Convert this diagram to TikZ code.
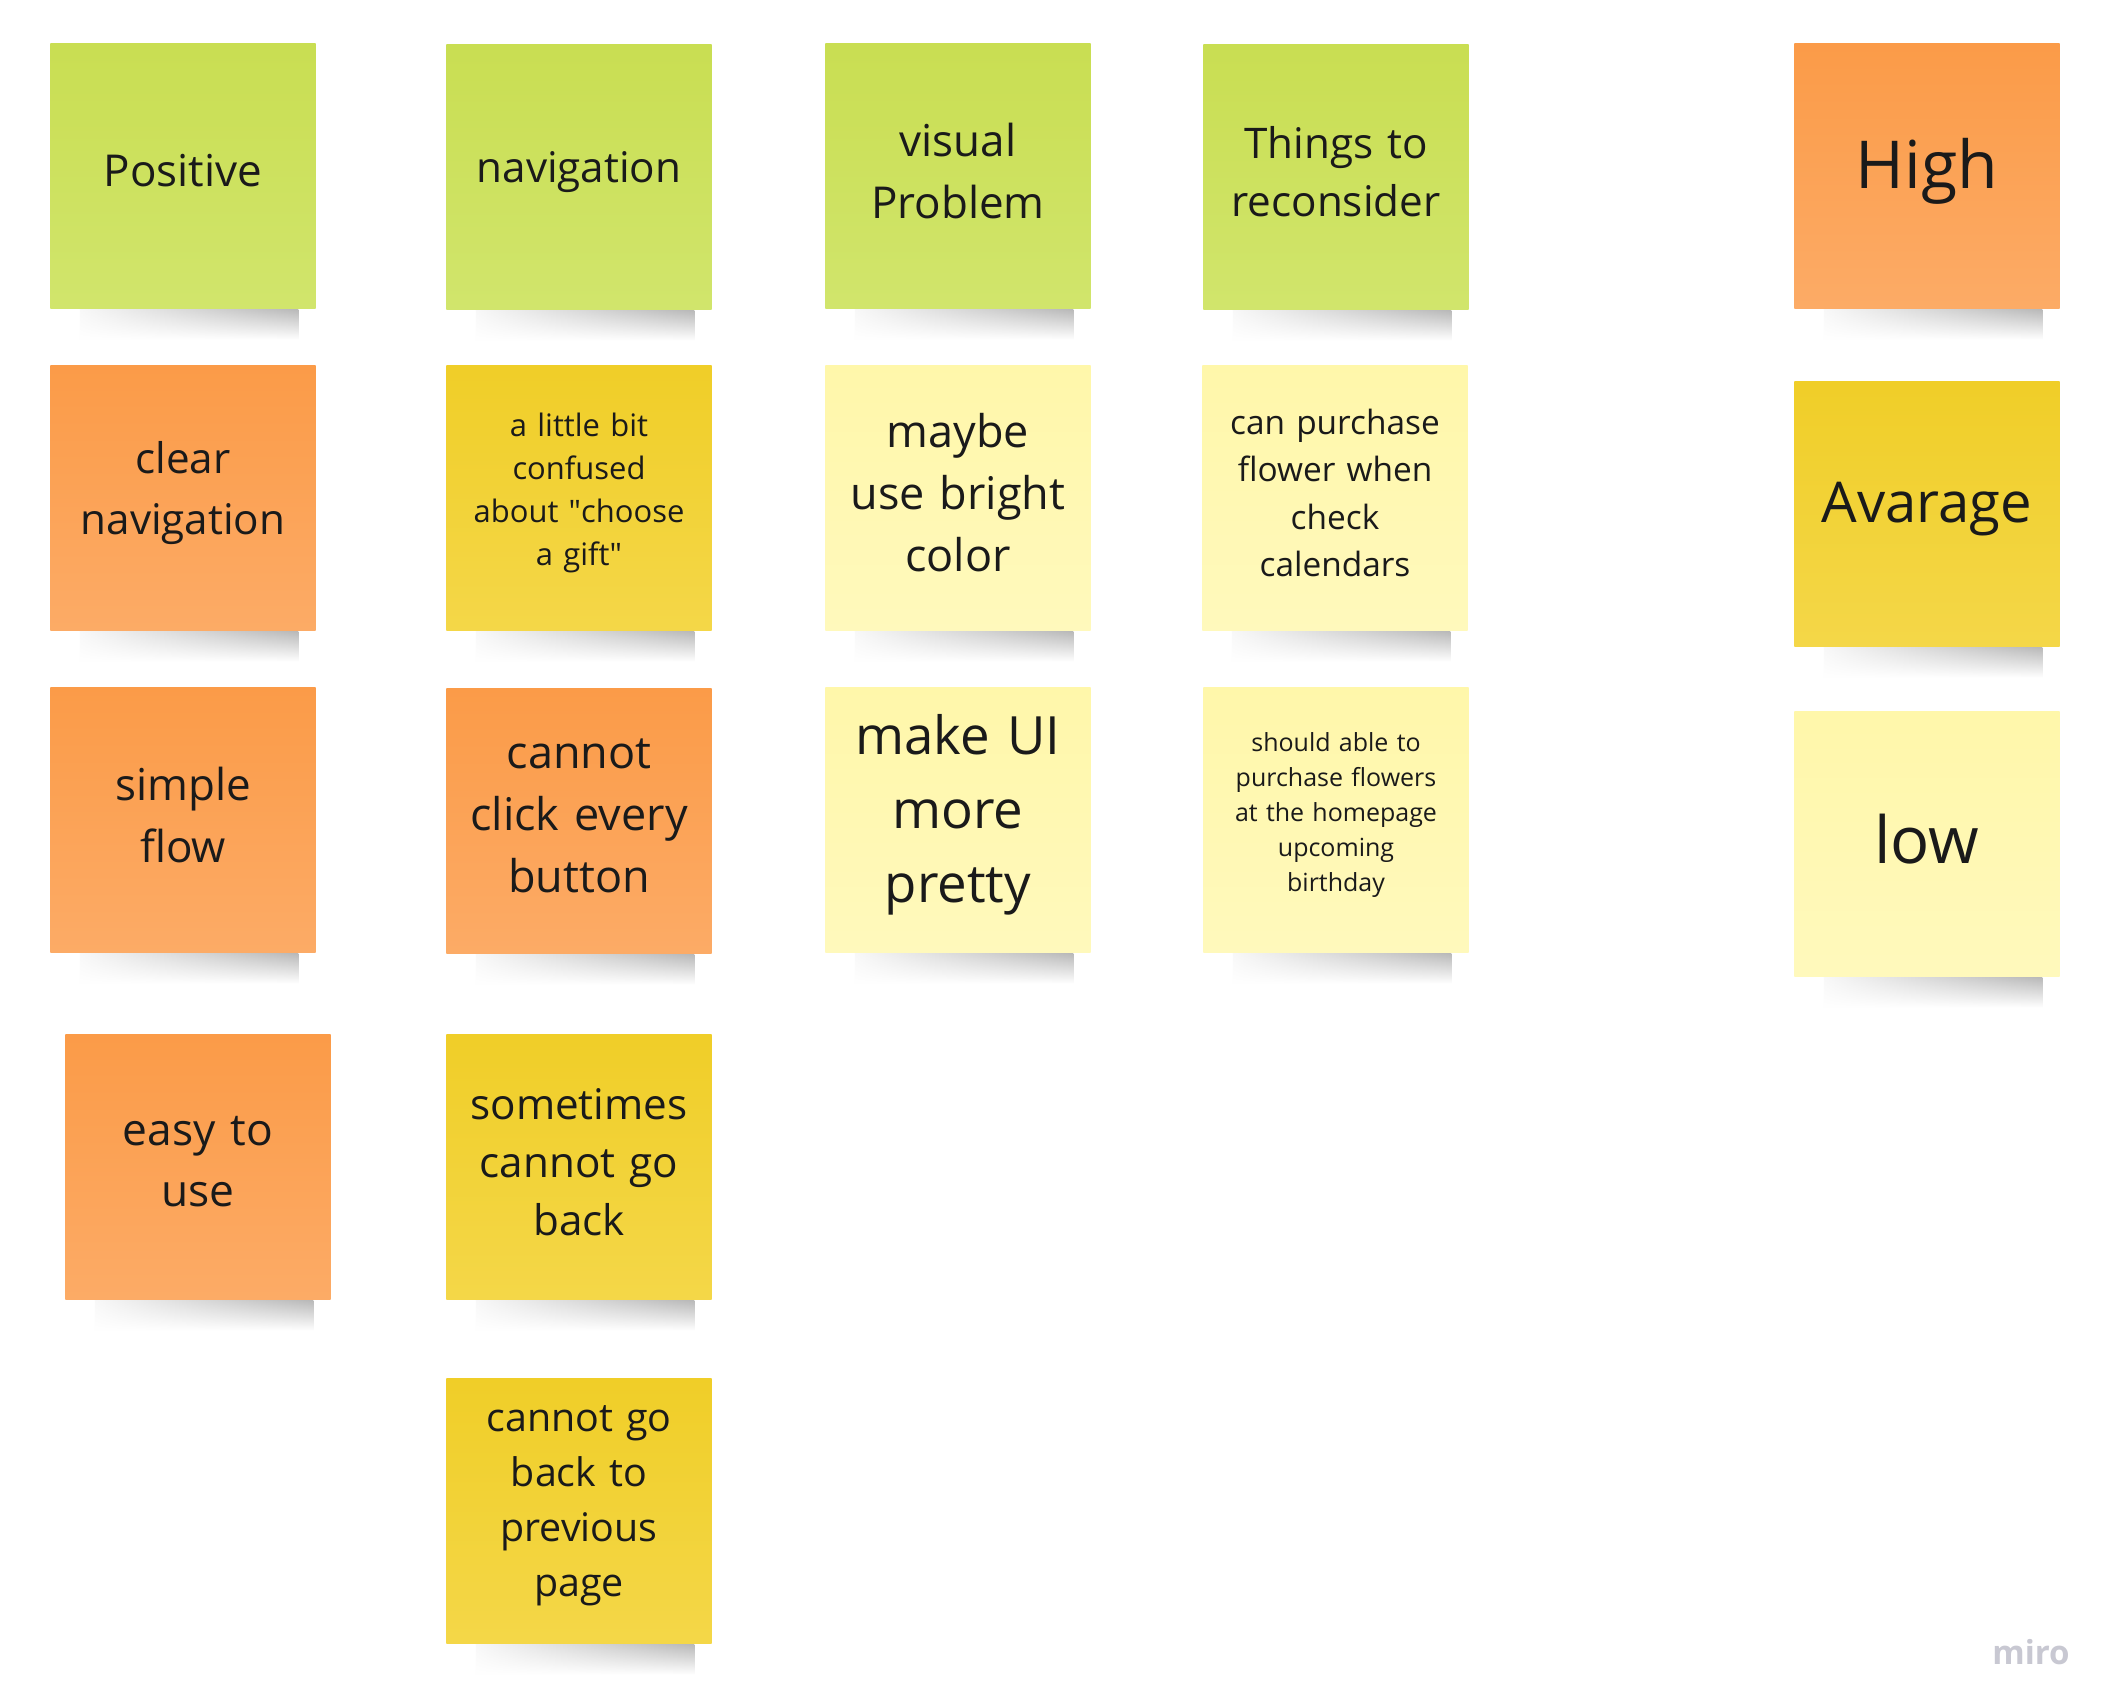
\documentclass[tikz,border=0pt]{standalone}
\usepackage{fontspec}
\setmainfont{Open Sans}
\usepackage{tikz}
\usetikzlibrary{fadings}
\definecolor{greentop}{RGB}{201,222,82}
\definecolor{greenbot}{RGB}{209,229,108}
\definecolor{orangetop}{RGB}{251,155,72}
\definecolor{orangebot}{RGB}{252,171,102}
\definecolor{yellowtop}{RGB}{240,206,40}
\definecolor{yellowbot}{RGB}{244,215,72}
\definecolor{paletop}{RGB}{255,247,170}
\definecolor{palebot}{RGB}{255,249,188}
\definecolor{ink}{RGB}{26,26,26}
\definecolor{brand}{RGB}{200,200,210}
\newcommand{\fs}[2]{\fontsize{#1}{#2}\selectfont}
\newcommand{\notelift}{\par\nointerlineskip\kern0.1cm\nointerlineskip\null}
\tikzfading[name=sidefade, left color=transparent!95, middle color=transparent!10, right color=transparent!45]

\begin{document}
\begin{tikzpicture}[x=0.01cm, y=-0.01cm,
	note/.style={minimum width=2.65cm, minimum height=2.65cm, inner sep=0pt,
		text width=2.45cm, align=center, text=ink, execute at end node=\notelift},
	green/.style={note, top color=greentop, bottom color=greenbot},
	orange/.style={note, top color=orangetop, bottom color=orangebot},
	yellow/.style={note, top color=yellowtop, bottom color=yellowbot},
	pale/.style={note, top color=paletop, bottom color=palebot},
	shadow/.style={top color=black!50, bottom color=white, path fading=sidefade}]
	\useasboundingbox[fill=white] (0,0) rectangle (2120,1700);
	% header row
	\node[green, font=\fs{12.5}{17.6}] (positive) at (183,176) {Positive};
	\node[green, font=\fs{12}{17}] (navigation) at (579,177) {navigation};
	\node[green, font=\fs{12.5}{17.6}] (visual) at (958,176) {visual\\Problem};
	\node[green, font=\fs{12}{16.4}] (reconsider) at (1336,177) {Things to\\reconsider};
	% positive
	\node[orange, font=\fs{12}{17.4}] (clearnav) at (183,498) {clear\\navigation};
	\node[orange, font=\fs{12.5}{17.4}] (simpleflow) at (183,820) {simple\\flow};
	\node[orange, font=\fs{12.6}{17.4}] (easyuse) at (198,1167) {easy to\\use};
	% navigation
	\node[yellow, font=\fs{8.8}{12.2}] (confused) at (579,498) {a little bit\\confused\\about \textquotedbl choose\\a gift\textquotedbl};
	\node[orange, font=\fs{12.8}{17.6}] (clickbutton) at (579,821) {cannot\\click every\\button};
	\node[yellow, font=\fs{12}{16.5}] (goback) at (579,1167) {sometimes\\cannot go\\back};
	\node[yellow, font=\fs{11.2}{15.6}] (previous) at (579,1511) {cannot go\\back to\\previous\\page};
	% visual problem
	\node[pale, font=\fs{12.8}{17.6}] (bright) at (958,498) {maybe\\use bright\\color};
	\node[pale, font=\fs{15}{21}] (pretty) at (958,820) {make UI\\more\\pretty};
	% things to reconsider
	\node[pale, font=\fs{9.5}{13.4}] (calendar) at (1335,498) {can purchase\\flower when\\check\\calendars};
	\node[pale, font=\fs{7.1}{10}] (homepage) at (1336,820) {should able to\\purchase flowers\\at the homepage\\upcoming\\birthday};
	% priority
	\node[orange, font=\fs{18.8}{22}] (high) at (1927,176) {High};
	\node[yellow, font=\fs{16}{20}] (average) at (1927,514) {Avarage};
	\node[pale, font=\fs{18.5}{22}] (low) at (1927,844) {low};
	% shadows
	\foreach \n in {positive,navigation,visual,reconsider,clearnav,simpleflow,easyuse,
		confused,clickbutton,goback,previous,bright,pretty,calendar,homepage,high,average,low}
		\shade[shadow] ([xshift=0.3cm]\n.south west) rectangle ([xshift=-0.18cm, yshift=-0.3cm]\n.south east);
	% watermark
	\node[text=brand, font=\fs{9.4}{11}\bfseries] (miro) at (2031,1652) {miro};
\end{tikzpicture}
\end{document}
